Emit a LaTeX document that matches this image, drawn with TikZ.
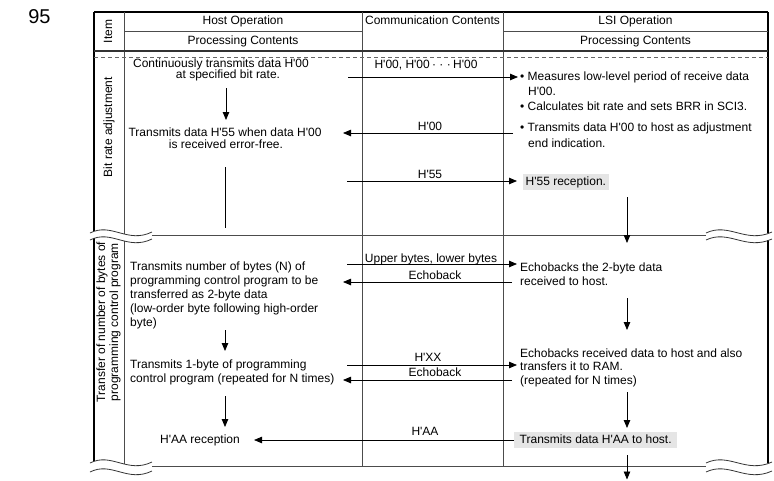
\documentclass[tikz,border=0pt]{standalone}
\usepackage{fontspec}
\newfontfamily\arialf{Liberation Sans}
\usetikzlibrary{arrows.meta}
\begin{document}
\begin{tikzpicture}[x=1pt,y=-1pt,
  txt/.style={font=\arialf\fontsize{12}{14}\selectfont, inner sep=0pt, text height=9pt, text depth=3pt},
  rtxt/.style={font=\arialf\fontsize{12}{13}\selectfont, inner sep=0pt, rotate=90, align=center},
  frameln/.style={line width=1.3pt, black},
  gridln/.style={line width=0.8pt, black!70},
  dashln/.style={line width=0.8pt, black!60, dash pattern=on 4pt off 3pt},
  arr/.style={line width=0.8pt, -{Triangle[length=8pt,width=6.5pt]}},
  flatln/.style={line width=0.8pt},
  wavy/.style={line width=0.8pt, black!80},
  graybox/.style={fill=black!10, inner ysep=2pt, text height=9pt, text depth=3pt, font=\arialf\fontsize{12}{14}\selectfont}
]
\useasboundingbox (0,0) rectangle (774,480);

% page number
\node[font=\arialf\fontsize{20}{24}\selectfont, inner sep=0pt] (pg) at (39.5,17) {95};

% ---------- table frame ----------
\draw[frameln] (94,12) -- (768,12);
\draw[frameln] (94,12) -- (94,231.3);
\draw[frameln] (94,238.3) -- (94,461.3);
\draw[frameln] (768,12) -- (768,233.3);
\draw[frameln] (768,240.3) -- (768,463.3);
\draw[gridln] (124,12) -- (124,233.7);
\draw[gridln] (124,240.7) -- (124,463.7);
\draw[gridln] (362,12) -- (362,466.5);
\draw[gridln] (503,12) -- (503,466.5);
\draw[gridln] (124,31) -- (362,31);
\draw[gridln] (503,31) -- (768,31);
\draw[line width=1.2pt, black!80] (94,51) -- (768,51);
\draw[dashln] (94,57) -- (768,57);
\draw[gridln] (152,235.5) -- (706,235.5);
\draw[gridln] (152,466.5) -- (706,466.5);

% break marks
\draw[wavy] (90,233) .. controls (111.7,222) and (127.2,244) .. (152,232);
\draw[wavy] (90,240) .. controls (111.7,229) and (127.2,251) .. (152,239);
\draw[wavy] (706,233) .. controls (729.1,222) and (745.6,244) .. (772,232);
\draw[wavy] (706,240) .. controls (729.1,229) and (745.6,251) .. (772,239);
\draw[wavy] (90,463) .. controls (111.7,452) and (127.2,474) .. (152,462);
\draw[wavy] (90,472) .. controls (111.7,461) and (127.2,483) .. (152,471);
\draw[wavy] (706,463) .. controls (729.1,452) and (745.6,474) .. (772,462);
\draw[wavy] (706,472) .. controls (729.1,461) and (745.6,483) .. (772,471);

% ---------- headers ----------
\node[txt, rotate=90] (item) at (109,31.5) {Item};
\node[txt] (hop) at (243,21.5) {Host Operation};
\node[txt] (hpc) at (243,41.5) {Processing Contents};
\node[txt] (cc) at (432.5,21.5) {Communication Contents};
\node[txt] (lop) at (635.5,21.5) {LSI Operation};
\node[txt] (lpc) at (635.5,41.5) {Processing Contents};

% ---------- section 1: bit rate adjustment ----------
\node[txt, rotate=90] (bra) at (109,127) {Bit rate adjustment};

\node[txt] (h1a) at (221,64.5) {Continuously transmits data H'00};
\node[txt] (h1b) at (228,75.5) {at specified bit rate.};
\node[txt] (h2a) at (225,133) {Transmits data H'55 when data H'00};
\node[txt] (h2b) at (226,145) {is received error-free.};
\coordinate (hv1s) at (226,88);
\coordinate (hv1e) at (226,120);
\draw[arr] (hv1s) -- (hv1e);
\coordinate (hv2s) at (225,167);
\coordinate (hv2e) at (225,228);
\draw[flatln] (hv2s) -- (hv2e);

\node[txt] (c1) at (426,65) {H'00, H'00 \hspace{-1pt}· · · \hspace{-1pt}H'00};
\coordinate (c1s) at (348,77);
\coordinate (c1e) at (518,77);
\draw[arr] (c1s) -- (c1e);
\node[txt] (c2) at (430,127) {H'00};
\coordinate (c2s) at (513,133);
\coordinate (c2e) at (343,133);
\draw[arr] (c2s) -- (c2e);
\node[txt] (c3) at (430,175) {H'55};
\coordinate (c3s) at (347,181);
\coordinate (c3e) at (517,181);
\draw[arr] (c3s) -- (c3e);

\node[txt, anchor=west] (l1a) at (520,77) {• Measures low-level period of receive data};
\node[txt, anchor=west] (l1b) at (528,92.5) {H'00.};
\node[txt, anchor=west] (l2) at (520,107.5) {• Calculates bit rate and sets BRR in SCI3.};
\node[txt, anchor=west] (l3a) at (520,128.5) {• Transmits data H'00 to host as adjustment};
\node[txt, anchor=west] (l3b) at (528,144.5) {end indication.};
\node[graybox, inner xsep=2.5pt, anchor=west] (l4) at (523,182) {H'55 reception.};
\coordinate (lv1s) at (627,197);
\coordinate (lv1e) at (627,243);
\draw[arr] (lv1s) -- (lv1e);

% ---------- section 2: transfer of number of bytes ----------
\node[rtxt] (tnb) at (108.5,322) {Transfer of number of bytes of\\programming control program};

\node[txt, anchor=west] (h3a) at (130,267) {Transmits number of bytes (N) of};
\node[txt, anchor=west] (h3b) at (130,281) {programming control program to be};
\node[txt, anchor=west] (h3c) at (130,295) {transferred as 2-byte data};
\node[txt, anchor=west] (h3d) at (130,309) {(low-order byte following high-order};
\node[txt, anchor=west] (h3e) at (130,323) {byte)};
\coordinate (hv3s) at (225,330);
\coordinate (hv3e) at (225,351);
\draw[arr] (hv3s) -- (hv3e);
\node[txt, anchor=west] (h4a) at (130,365) {Transmits 1-byte of programming};
\node[txt, anchor=west] (h4b) at (130,379) {control program (repeated for N times)};
\coordinate (hv4s) at (225,396);
\coordinate (hv4e) at (225,427);
\draw[arr] (hv4s) -- (hv4e);
\node[txt] (h5) at (200,440) {H'AA reception};

\node[txt] (c4) at (431,259) {Upper bytes, lower bytes};
\coordinate (c4s) at (347,264);
\coordinate (c4e) at (517,264);
\draw[arr] (c4s) -- (c4e);
\node[txt] (c5) at (435,276) {Echoback};
\coordinate (c5s) at (512,282);
\coordinate (c5e) at (343,282);
\draw[arr] (c5s) -- (c5e);
\node[txt] (c6) at (428,358) {H'XX};
\coordinate (c6s) at (347,365);
\coordinate (c6e) at (517,365);
\draw[arr] (c6s) -- (c6e);
\node[txt] (c7) at (435,373) {Echoback};
\coordinate (c7s) at (512,380);
\coordinate (c7e) at (343,380);
\draw[arr] (c7s) -- (c7e);
\node[txt] (c8) at (425,432) {H'AA};

\node[txt, anchor=west] (l5a) at (520,268) {Echobacks the 2-byte data};
\node[txt, anchor=west] (l5b) at (520,282) {received to host.};
\coordinate (lv2s) at (627,298);
\coordinate (lv2e) at (627,330);
\draw[arr] (lv2s) -- (lv2e);
\node[txt, anchor=west] (l6a) at (520,354) {Echobacks received data to host and also};
\node[txt, anchor=west] (l6b) at (520,367) {transfers it to RAM.};
\node[txt, anchor=west] (l6c) at (520,381) {(repeated for N times)};
\coordinate (lv3s) at (627,392);
\coordinate (lv3e) at (627,428);
\draw[arr] (lv3s) -- (lv3e);
\node[graybox, inner xsep=5.5pt, anchor=west] (l7) at (514,440) {Transmits data H'AA to host.};
\draw[arr, shorten >=14pt] (l7.west) -- (h5.east);
\coordinate (lv4s) at (627,455);
\coordinate (lv4e) at (627,479.5);
\draw[arr] (lv4s) -- (lv4e);
\end{tikzpicture}
\end{document}
